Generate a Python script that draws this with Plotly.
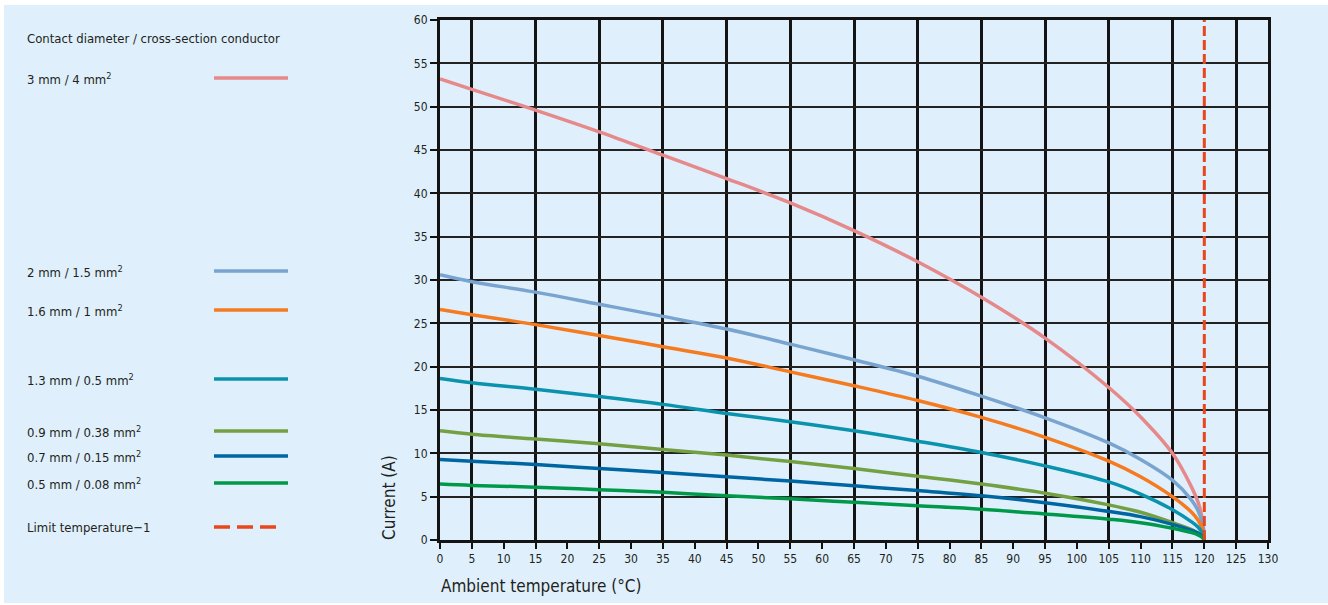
import plotly.graph_objects as go

# Ambient temperature (deg C) sample points
temp_c = [0, 5, 15, 25, 35, 45, 55, 65, 75, 85, 95, 105, 110, 115, 118, 119, 119.7, 120]

# Current (A) per contact size
cur_3mm = [53.2, 52.0, 49.6, 47.1, 44.4, 41.7, 38.9, 35.7, 32.1, 28.0, 23.3, 17.6, 14.2, 10.0, 6.1, 4.4, 2.4, 0.0]
cur_2mm = [30.6, 29.8, 28.6, 27.2, 25.8, 24.35, 22.6, 20.8, 18.9, 16.6, 14.1, 11.2, 9.3, 6.9, 4.6, 3.4, 1.9, 0.0]
cur_1_6mm = [26.6, 26.0, 24.85, 23.6, 22.3, 21.0, 19.4, 17.8, 16.1, 14.15, 11.85, 9.1, 7.3, 5.0, 3.2, 2.3, 1.3, 0.0]
cur_1_3mm = [18.65, 18.15, 17.4, 16.55, 15.65, 14.6, 13.65, 12.6, 11.4, 10.1, 8.55, 6.7, 5.3, 3.5, 2.1, 1.5, 0.8, 0.0]
cur_0_9mm = [12.6, 12.2, 11.65, 11.1, 10.45, 9.8, 9.05, 8.25, 7.35, 6.45, 5.4, 4.05, 3.2, 2.0, 1.2, 0.8, 0.4, 0.0]
cur_0_7mm = [9.3, 9.1, 8.7, 8.25, 7.8, 7.3, 6.8, 6.25, 5.7, 5.1, 4.3, 3.3, 2.7, 1.8, 1.1, 0.8, 0.4, 0.0]
cur_0_5mm = [6.45, 6.3, 6.1, 5.8, 5.5, 5.1, 4.75, 4.35, 3.95, 3.55, 3.0, 2.4, 2.0, 1.35, 0.85, 0.6, 0.3, 0.0]

limit_temp = [120, 120]
limit_current = [0, 60]

series_names = [
    "3 mm / 4 mm<sup>2</sup>",
    "2 mm / 1.5 mm<sup>2</sup>",
    "1.6 mm / 1 mm<sup>2</sup>",
    "1.3 mm / 0.5 mm<sup>2</sup>",
    "0.9 mm / 0.38 mm<sup>2</sup>",
    "0.7 mm / 0.15 mm<sup>2</sup>",
    "0.5 mm / 0.08 mm<sup>2</sup>",
]
series_values = [cur_3mm, cur_2mm, cur_1_6mm, cur_1_3mm, cur_0_9mm, cur_0_7mm, cur_0_5mm]
series_colors = ["#e5898a", "#79a4cf", "#f47b20", "#0b93ae", "#74a044", "#0066a2", "#00994a"]

x_ticks = list(range(0, 135, 5))
y_ticks = list(range(0, 65, 5))

BG = "#dff0fc"
FONT = "Liberation Sans Narrow, DejaVu Sans Condensed, Arial Narrow, sans-serif"
TXT = "#231f20"

# plot area in pixels: x 440..1268, y 20..540
L, R, T, B = 440, 1268, 20, 540


def px(x):
    return (x - L) / (R - L)


def py(y):
    return (B - y) / (B - T)


fig = go.Figure()

for name, vals, col in zip(series_names, series_values, series_colors):
    fig.add_trace(
        go.Scatter(
            x=temp_c, y=vals, mode="lines", name=name,
            line=dict(color=col, width=3.5, shape="spline", smoothing=1.0),
        )
    )

fig.add_trace(
    go.Scatter(
        x=limit_temp, y=limit_current, mode="lines", name="Limit temperature\u22121",
        line=dict(color="#e9461c", width=3, dash="10px,4px"),
    )
)

shapes = [
    # light blue panel behind everything
    dict(type="rect", xref="paper", yref="paper", x0=px(4), x1=px(1330), y0=py(603), y1=py(5),
         fillcolor=BG, line=dict(width=0), layer="below"),
]

annotations = [
    dict(text="Contact diameter / cross-section conductor", x=px(25), y=py(39), xref="paper", yref="paper",
         xanchor="left", yanchor="middle", showarrow=False, font=dict(family=FONT, size=13, color=TXT)),
    dict(text="Current (A)", x=px(389), y=py(498), xref="paper", yref="paper", textangle=-90,
         xanchor="center", yanchor="middle", showarrow=False, font=dict(family=FONT, size=17, color=TXT)),
    dict(text="Ambient temperature (\u00b0C)", x=px(439), y=py(586), xref="paper", yref="paper",
         xanchor="left", yanchor="middle", showarrow=False, font=dict(family=FONT, size=17, color=TXT)),
]

# hand-placed legend rows (pixel y of each row)
legend_rows = [78, 271, 310, 379, 431, 456, 483]
for name, col, yrow in zip(series_names, series_colors, legend_rows):
    shapes.append(dict(type="line", xref="paper", yref="paper", x0=px(214), x1=px(288), y0=py(yrow), y1=py(yrow),
                       line=dict(color=col, width=3.5)))
    annotations.append(dict(text=name, x=px(25), y=py(yrow + 1), xref="paper", yref="paper",
                            xanchor="left", yanchor="middle", showarrow=False,
                            font=dict(family=FONT, size=13, color=TXT)))

shapes.append(dict(type="line", xref="paper", yref="paper", x0=px(214), x1=px(281), y0=py(527), y1=py(527),
                   line=dict(color="#e9461c", width=3.5, dash="16px,7px")))
annotations.append(dict(text="Limit temperature\u22121", x=px(25), y=py(527), xref="paper", yref="paper",
                        xanchor="left", yanchor="middle", showarrow=False,
                        font=dict(family=FONT, size=13, color=TXT)))

fig.update_layout(
    width=1328,
    height=605,
    margin=dict(l=L, r=1328 - R, t=T, b=605 - B),
    paper_bgcolor="white",
    plot_bgcolor="rgba(0,0,0,0)",
    showlegend=False,
    shapes=shapes,
    annotations=annotations,
    font=dict(family=FONT, color=TXT),
)

fig.update_xaxes(
    range=[0, 130],
    tickvals=x_ticks,
    ticktext=[str(v) for v in x_ticks],
    ticks="outside", ticklen=6, tickwidth=1.5, tickcolor="#111",
    tickfont=dict(family=FONT, size=12, color=TXT),
    showgrid=False,
    minor=dict(tickvals=list(range(5, 130, 10)), showgrid=True, gridcolor="#141414", gridwidth=3, ticks=""),
    showline=True, linecolor="#141414", linewidth=3, mirror=True,
    zeroline=False,
)
fig.update_yaxes(
    range=[0, 60],
    tickvals=y_ticks,
    ticks="outside", ticklen=7, tickwidth=1.5, tickcolor="#111",
    tickfont=dict(family=FONT, size=12, color=TXT),
    showgrid=True, gridcolor="#222", gridwidth=2,
    showline=True, linecolor="#141414", linewidth=3, mirror=True,
    zeroline=False,
)

fig.write_html("out.html", config={"displayModeBar": False},
               post_script="document.body.style.margin='0';")
